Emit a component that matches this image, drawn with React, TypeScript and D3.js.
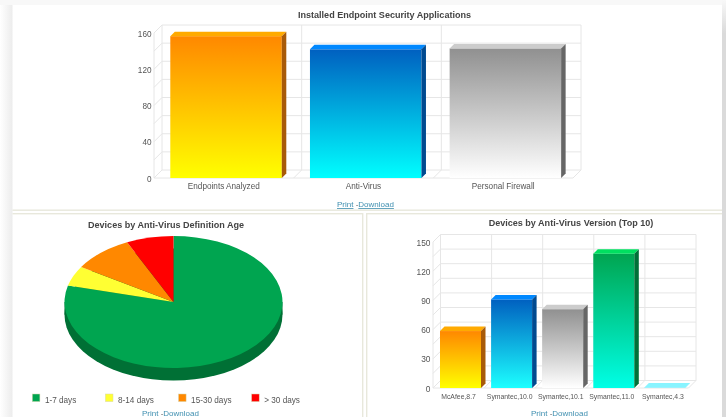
import React from "react";
import * as d3 from "d3";

const topCategories = ["Endpoints Analyzed", "Anti-Virus", "Personal Firewall"];
const topValues = [156.5, 142, 143];
const topTicks = [0, 40, 80, 120, 160];
const topMinor = [0, 20, 40, 60, 80, 100, 120, 140, 160];

const versionCategories = ["McAfee,8.7", "Symantec,10.0", "Symantec,10.1", "Symantec,11.0", "Symantec,4.3"];
const versionValues = [58.5, 91, 81, 138, 0.5];
const versionTicks = [0, 30, 60, 90, 120, 150];
const versionMinor = [0, 15, 30, 45, 60, 75, 90, 105, 120, 135, 150];

const pieLabels = ["1-7 days", "8-14 days", "15-30 days", "> 30 days"];
const pieValues = [113, 7, 13, 10];
const pieColors = ["#00a550", "#ffff33", "#ff8800", "#ff0000"];

const topGrads = [
  { id: "g-orange", from: "#ff8800", to: "#ffff00", top: "#ffaa00", side: "#a85a08" },
  { id: "g-blue", from: "#0060c0", to: "#00ffff", top: "#0088ff", side: "#004a90" },
  { id: "g-gray", from: "#909090", to: "#ffffff", top: "#cccccc", side: "#666666" },
];
const verGrads = [
  topGrads[0],
  { id: "g-blue2", from: "#0060c0", to: "#1cffff", top: "#0088ff", side: "#004a90" },
  topGrads[2],
  { id: "g-green", from: "#00a550", to: "#00ffe6", top: "#00e060", side: "#007038" },
  { id: "g-cyan", from: "#66eeff", to: "#99ffff", top: "#88f4ff", side: "#88f4ff" },
];

const FONT = "Liberation Sans, Arial, sans-serif";
const GRID = "#e6e6e6";
const TXT = "#555555";

type BarProps = {
  categories: string[];
  values: number[];
  ticks: number[];
  minor: number[];
  x0: number;
  x1: number;
  yTop: number;
  yBot: number;
  wall: number;
  barD: number;
  offset: number;
  barW: number;
  grads: typeof topGrads;
  labelSize: number;
  tickSize: number;
};

function Bars3D(p: BarProps) {
  const { wall, barD } = p;
  const x = d3.scaleBand<string>().domain(p.categories).range([p.x0, p.x1]);
  const y = d3.scaleLinear().domain([0, p.ticks[p.ticks.length - 1]]).range([p.yBot, p.yTop]);
  return (
    <g fontFamily={FONT}>
      {p.minor.map((t) => (
        <polyline key={t} fill="none" stroke={GRID} strokeWidth={1}
          points={`${p.x0},${y(t)} ${p.x0 + wall},${y(t) - wall} ${p.x1 + wall},${y(t) - wall}`} />
      ))}
      {p.categories.map((c) => (
        <polyline key={c} fill="none" stroke={GRID} strokeWidth={1}
          points={`${x(c)! + wall},${p.yTop - wall} ${x(c)! + wall},${p.yBot - wall} ${x(c)!},${p.yBot}`} />
      ))}
      <polyline fill="none" stroke={GRID} strokeWidth={1}
        points={`${p.x1 + wall},${p.yTop - wall} ${p.x1 + wall},${p.yBot - wall} ${p.x1},${p.yBot} ${p.x0},${p.yBot}`} />
      <line x1={p.x0} x2={p.x0} y1={p.yTop} y2={p.yBot} stroke={GRID} />
      {p.categories.map((c, i) => {
        const bx = x(c)! + p.offset;
        const bw = p.barW;
        const top = y(p.values[i]);
        const g = p.grads[i];
        return (
          <g key={c}>
            <rect x={bx} y={top} width={bw} height={p.yBot - top} fill={`url(#${g.id})`} />
            <polygon fill={g.top} points={`${bx},${top} ${bx + barD},${top - barD} ${bx + bw + barD},${top - barD} ${bx + bw},${top}`} />
            <polygon fill={g.side} points={`${bx + bw},${top} ${bx + bw + barD},${top - barD} ${bx + bw + barD},${p.yBot - barD} ${bx + bw},${p.yBot}`} />
            <text x={x(c)! + x.bandwidth() / 2} y={p.yBot + 10.5} textAnchor="middle" fontSize={p.labelSize} fill={TXT}>{c}</text>
          </g>
        );
      })}
      {p.ticks.map((t) => (
        <text key={t} x={p.x0 - 2.5} y={y(t) + 3.5} textAnchor="end" fontSize={p.tickSize} fill={TXT}>{t}</text>
      ))}
    </g>
  );
}

function Links({ x, y }: { x: number; y: number }) {
  const c = "#3f8fb0";
  return (
    <text x={x} y={y} fontFamily={FONT} fontSize={8} fill={c}>
      <tspan textDecoration="underline">Print</tspan>
      <tspan fill="#666666"> -</tspan>
      <tspan textDecoration="underline">Download</tspan>
    </text>
  );
}

function Pie3D() {
  const cx = 173.5, cy = 302, rx = 109, ry = 66, depth = 12.5;
  const pie = d3.pie<number>().sort(null).startAngle(0).endAngle(2 * Math.PI);
  const arcs = pie(pieValues);
  const arc = d3.arc<d3.PieArcDatum<number>>().innerRadius(0).outerRadius(rx);
  return (
    <g>
      <g transform={`translate(${cx},${cy + depth}) scale(1,${ry / rx})`}>
        <circle r={rx} fill="#007035" />
      </g>
      <rect x={cx - rx} y={cy} width={2 * rx} height={depth} fill="#007035" />
      <g transform={`translate(${cx},${cy}) scale(1,${ry / rx})`}>
        {arcs.map((a, i) => (
          <path key={i} d={arc(a) ?? ""} fill={pieColors[i]} />
        ))}
      </g>
      <g fontFamily={FONT} fontSize={8.2}>
        {pieLabels.map((l, i) => {
          const lx = 32.3 + i * 73.1;
          return (
            <g key={l}>
              <rect x={lx} y={394} width={7.6} height={7.6} fill={pieColors[i]} stroke="#d8d8b0" strokeWidth={0.5} />
              <text x={lx + 12.6} y={402.6} fill={TXT}>{l}</text>
            </g>
          );
        })}
      </g>
    </g>
  );
}

export default function App() {
  const all = [...topGrads, ...verGrads.filter((g) => !topGrads.includes(g))];
  return (
    <svg width={726} height={417} style={{ position: "absolute", left: 0, top: 0, display: "block", filter: "blur(0.45px)" }}>
      <defs>
        {all.map((g) => (
          <linearGradient key={g.id} id={g.id} x1="0" x2="0" y1="0" y2="1">
            <stop offset="0" stopColor={g.from} />
            <stop offset="1" stopColor={g.to} />
          </linearGradient>
        ))}
        <linearGradient id="shadow-l" x1="0" x2="1" y1="0" y2="0">
          <stop offset="0" stopColor="#ffffff" />
          <stop offset="1" stopColor="#ececec" />
        </linearGradient>
        <linearGradient id="shadow-r" x1="0" x2="0" y1="0" y2="1">
          <stop offset="0" stopColor="#f8f8f8" />
          <stop offset="0.08" stopColor="#dadada" />
          <stop offset="1" stopColor="#dadada" />
        </linearGradient>
      </defs>
      <rect width={726} height={417} fill="#ffffff" />
      <rect x={0} y={0} width={12.5} height={417} fill="url(#shadow-l)" />
      <rect x={0} y={0} width={726} height={5} fill="#f8f8f8" />
      <rect x={722} y={0} width={4} height={417} fill="url(#shadow-r)" />
      <rect x={12.5} y={209.5} width={709.5} height={1.4} fill="#e8e8dc" />
      <rect x={12.5} y={213} width={350.5} height={1.4} fill="#e8e8dc" />
      <rect x={366} y={213} width={356} height={1.4} fill="#e8e8dc" />
      <rect x={362} y={213} width={1.4} height={204} fill="#e8e8dc" />
      <rect x={366} y={213} width={1.4} height={204} fill="#e8e8dc" />
      <g fontFamily={FONT} fontWeight="bold" fill="#444444" fontSize={9.05}>
        <text x={384.5} y={17.5} textAnchor="middle">Installed Endpoint Security Applications</text>
        <text x={166} y={228} textAnchor="middle">Devices by Anti-Virus Definition Age</text>
        <text x={571} y={226} textAnchor="middle">Devices by Anti-Virus Version (Top 10)</text>
      </g>
      <Bars3D categories={topCategories} values={topValues} ticks={topTicks} minor={topMinor}
        x0={154} x1={573} yTop={33} yBot={178} wall={8} barD={4.5} offset={16.3} barW={111.5} grads={topGrads} labelSize={8.2} tickSize={8.2} />
      <Links x={337} y={207} />
      <Pie3D />
      <Links x={142} y={416} />
      <Bars3D categories={versionCategories} values={versionValues} ticks={versionTicks} minor={versionMinor}
        x0={433} x1={688.5} yTop={242} yBot={388} wall={7.5} barD={4.5} offset={7} barW={41} grads={verGrads} labelSize={6.85} tickSize={8.4} />
      <Links x={531} y={416} />
    </svg>
  );
}
